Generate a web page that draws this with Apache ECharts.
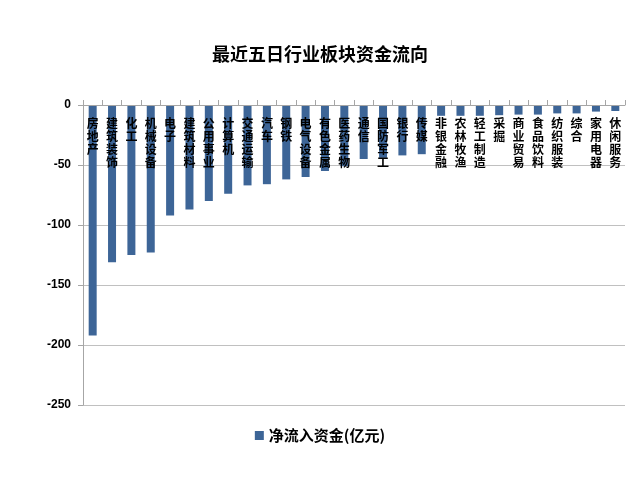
<!DOCTYPE html>
<html>
<head>
<meta charset="utf-8">
<script src="https://cdn.jsdelivr.net/npm/echarts@6/dist/echarts.min.js"></script>
<style>html,body{margin:0;padding:0;background:#fff;}#c{width:640px;height:480px;}</style>
</head>
<body>
<div id="c"></div>
<script>
const titleText = '最近五日行业板块资金流向';
const seriesName = '净流入资金(亿元)';
const categories = ['房地产','建筑装饰','化工','机械设备','电子','建筑材料','公用事业','计算机','交通运输','汽车','钢铁','电气设备','有色金属','医药生物','通信','国防军工','银行','传媒','非银金融','农林牧渔','轻工制造','采掘','商业贸易','食品饮料','纺织服装','综合','家用电器','休闲服务'];
const values = [-192,-131,-125,-123,-92,-87,-80,-74,-67,-66,-62,-60,-55,-51,-45,-44,-42,-41,-9,-9,-9,-8.5,-8,-8,-7,-7,-5.5,-5];
const yTicks = {min: -250, max: 0, interval: 50};

const chart = echarts.init(document.getElementById('c'), null, {renderer: 'canvas'});
chart.setOption({
  backgroundColor: '#fff',
  animation: false,
  title: {
    text: titleText, left: 'center', top: 40,
    textStyle: {fontFamily: 'Noto Sans CJK SC', fontSize: 18, fontWeight: 'bold', color: '#000'}
  },
  legend: {
    bottom: 32, left: 'center', itemWidth: 9, itemHeight: 9, icon: 'rect', itemGap: 4,
    textStyle: {fontFamily: 'Noto Sans CJK SC', fontSize: 15, fontWeight: 'bold', color: '#000'}
  },
  grid: {left: 83, right: 15, top: 105, bottom: 75, containLabel: false},
  xAxis: {
    type: 'category', data: categories, position: 'top',
    axisLine: {lineStyle: {color: '#a6a6a6', width: 1}},
    axisTick: {show: true, inside: false, length: 5, alignWithLabel: false, lineStyle: {color: '#a6a6a6'}},
    axisLabel: {
      inside: true, interval: 0, margin: 12, verticalAlign: 'top',
      fontFamily: 'Noto Sans CJK SC', fontSize: 12, lineHeight: 13, fontWeight: 'bold', color: '#000',
      formatter: v => v.split('').join('\n')
    },
    z: 10
  },
  yAxis: {
    type: 'value', min: yTicks.min, max: yTicks.max, interval: yTicks.interval,
    axisLine: {show: true, lineStyle: {color: '#a6a6a6'}},
    axisTick: {show: true, length: 5, lineStyle: {color: '#a6a6a6'}},
    axisLabel: {fontFamily: 'Liberation Sans', fontSize: 12, fontWeight: 'bold', color: '#000', margin: 12},
    splitLine: {lineStyle: {color: '#c0c0c0', width: 1}}
  },
  series: [{
    name: seriesName, type: 'bar', data: values, barWidth: 8,
    itemStyle: {color: '#3d6597'}
  }]
});
</script>
</body>
</html>
